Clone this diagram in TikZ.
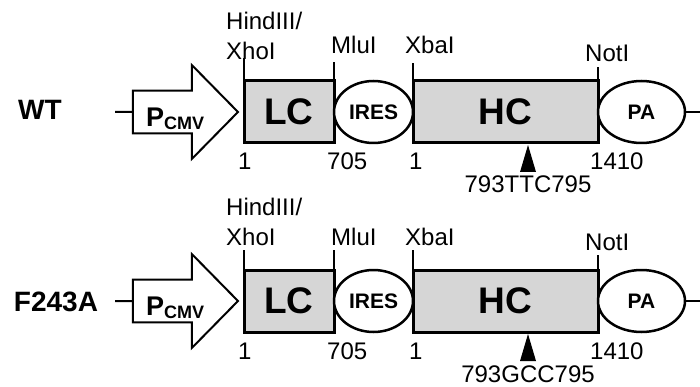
\documentclass[tikz,border=0pt]{standalone}
\usepackage{fontspec}
\setmainfont{Liberation Sans}
\usetikzlibrary{positioning,shapes.geometric,shapes.arrows}
\newcommand{\pcmv}{\rule{0pt}{33pt}P\raisebox{-3pt}{\fontsize{18}{18}\selectfont CMV}}

\begin{document}
\begin{tikzpicture}[x=1pt, y=-1pt,
    box/.style={draw, line width=3pt, fill=black!16, minimum height=62pt,
                inner sep=0pt, outer sep=0pt, font=\fontsize{37}{37}\selectfont\bfseries},
    oval/.style={draw, ellipse, line width=2.5pt, fill=white, minimum height=62pt,
                 inner sep=0pt, outer sep=0pt},
    prom/.style={draw, single arrow, line width=2pt, minimum height=105pt,
                 minimum width=94pt, single arrow head extend=23pt,
                 single arrow tip angle=91, inner sep=0pt, outer sep=0pt,
                 font=\fontsize{27}{27}\selectfont\bfseries},
    site/.style={anchor=base west, inner sep=0pt, font=\fontsize{24}{24}\selectfont},
    mut/.style={site, anchor=base},
    lbl/.style={inner sep=0pt, font=\fontsize{28}{28}\selectfont\bfseries},
    wire/.style={line width=2pt},
    tick/.style={line width=1.1pt}
  ]
  \useasboundingbox (0,0) rectangle (700,387);

  % wild type
  \node[lbl] (wt) at (40,110) {WT};
  \node[box, minimum width=90pt] (wtlc) at (289,112) {LC};
  \node[oval, minimum width=79pt, right=0pt of wtlc,
        font=\fontsize{21}{21}\selectfont\bfseries] (wtires) {IRES};
  \node[box, minimum width=185pt, right=0pt of wtires] (wthc) {HC};
  \node[oval, minimum width=87pt, right=0pt of wthc,
        font=\fontsize{21}{21}\selectfont\bfseries] (wtpa) {PA};
  \node[prom, left=6pt of wtlc] (wtp) {\pcmv};
  \coordinate (wtin) at (115,112);
  \coordinate (wtout) at (700,112);
  \draw[wire] (wtin) -- (wtp.tail);
  \draw[wire] (wtpa.east) -- (wtout);

  \draw[tick] (wtlc.north west) -- ++(0,-23);
  \draw[tick] (wtlc.north east) -- ++(0,-19);
  \draw[tick] (wthc.north west) -- ++(0,-18);
  \draw[tick] (wthc.north east) -- ++(0,-14);
  \node[site] (wth3) at (226,30) {HindIII/};
  \node[site] (wtxho) at (226,60) {XhoI};
  \node[site] (wtmlu) at (331,54) {MluI};
  \node[site] (wtxba) at (405,54) {XbaI};
  \node[site] (wtnot) at (585,62) {NotI};

  \node[site] (wtn1) at (238,170) {1};
  \node[site] (wtn2) at (327,170) {705};
  \node[site] (wtn3) at (409,170) {1};
  \node[site] (wtn4) at (590,170) {1410};
  \coordinate (wtsnp) at (528,145);
  \fill (wtsnp) -- ++(8,27) -- ++(-16,0) -- cycle;
  \node[mut] (wtcod) at (528,193) {793TTC795};

  % F243A mutant
  \node[lbl] (mu) at (56,302) {F243A};
  \node[box, minimum width=90pt] (mulc) at (289,301) {LC};
  \node[oval, minimum width=79pt, right=0pt of mulc,
        font=\fontsize{21}{21}\selectfont\bfseries] (muires) {IRES};
  \node[box, minimum width=185pt, right=0pt of muires] (muhc) {HC};
  \node[oval, minimum width=87pt, right=0pt of muhc,
        font=\fontsize{21}{21}\selectfont\bfseries] (mupa) {PA};
  \node[prom, left=6pt of mulc] (mup) {\pcmv};
  \coordinate (muin) at (115,301);
  \coordinate (muout) at (700,301);
  \draw[wire] (muin) -- (mup.tail);
  \draw[wire] (mupa.east) -- (muout);

  \draw[tick] (mulc.north west) -- ++(0,-20);
  \draw[tick] (mulc.north east) -- ++(0,-20);
  \draw[tick] (muhc.north west) -- ++(0,-20);
  \draw[tick] (muhc.north east) -- ++(0,-15);
  \node[site] (muh3) at (226,215) {HindIII/};
  \node[site] (muxho) at (226,245) {XhoI};
  \node[site] (mumlu) at (331,245) {MluI};
  \node[site] (muxba) at (405,245) {XbaI};
  \node[site] (munot) at (585,250) {NotI};

  \node[site] (mun1) at (238,359) {1};
  \node[site] (mun2) at (327,359) {705};
  \node[site] (mun3) at (409,359) {1};
  \node[site] (mun4) at (590,359) {1410};
  \coordinate (musnp) at (528,334);
  \fill (musnp) -- ++(8,27) -- ++(-16,0) -- cycle;
  \node[mut] (mucod) at (528,382) {793GCC795};
\end{tikzpicture}
\end{document}
